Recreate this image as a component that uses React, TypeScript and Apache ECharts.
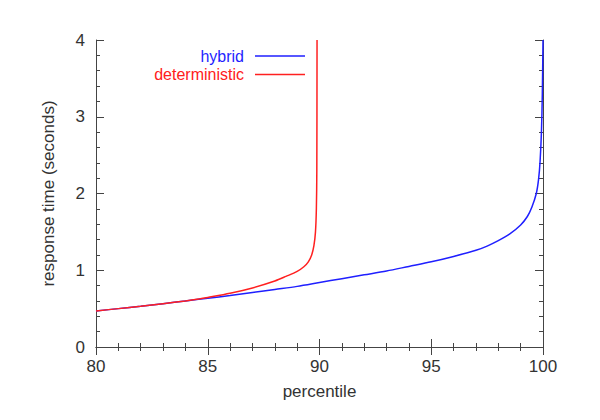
import React, { useEffect, useRef } from "react";
import * as echarts from "echarts";

const hybridPct = [80, 81, 82, 83, 84, 85, 86, 87, 88, 89, 90, 91, 92, 93, 94, 95, 96, 97, 97.5, 98, 98.5, 99, 99.3, 99.5, 99.7, 99.8, 99.87, 99.93, 99.97, 100];
const hybridVal = [0.47, 0.5, 0.53, 0.565, 0.6, 0.635, 0.67, 0.71, 0.75, 0.79, 0.84, 0.89, 0.94, 0.99, 1.05, 1.11, 1.18, 1.26, 1.315, 1.385, 1.47, 1.59, 1.7, 1.82, 2.0, 2.18, 2.42, 2.8, 3.3, 4.0];

const detPct = [80, 81, 82, 83, 84, 84.6, 85, 86, 87, 88, 88.5, 89, 89.3, 89.5, 89.65, 89.75, 89.82, 89.86, 89.88, 89.89];
const detVal = [0.47, 0.5, 0.53, 0.565, 0.6, 0.625, 0.645, 0.7, 0.77, 0.86, 0.92, 0.985, 1.045, 1.11, 1.2, 1.32, 1.5, 1.8, 2.3, 4.0];

const seriesNames = ["hybrid", "deterministic"];
const seriesColors = ["#1f1fff", "#ff2020"];

const xTicks = { min: 80, max: 100, interval: 5 };
const yTicks = { min: 0, max: 4, interval: 1 };

export default function App() {
  const ref = useRef<HTMLDivElement>(null);
  useEffect(() => {
    if (!ref.current) return;
    const chart = echarts.init(ref.current, null, { renderer: "svg" });
    const font = "Liberation Sans, Helvetica, Arial, sans-serif";
    const axisColor = "#444";
    const fs = 17;
    const baseAxis = {
      type: "value" as const,
      axisLine: { show: true, lineStyle: { color: axisColor, width: 1 } },
      axisTick: { show: true, inside: true, length: 8, lineStyle: { color: axisColor } },
      minorTick: { show: true, splitNumber: 5, length: 4, lineStyle: { color: axisColor } },
      splitLine: { show: false },
      minorSplitLine: { show: false },
    };
    const pairs = (xs: number[], ys: number[]) => xs.map((x, i) => [x, ys[i]]);
    chart.setOption({
      animation: false,
      backgroundColor: "#fff",
      textStyle: { fontFamily: font },
      grid: { left: 96, right: 57, top: 40, bottom: 73 },
      legend: seriesNames.map((n, i) => ({
        data: [{ name: n, textStyle: { color: seriesColors[i] } }],
        right: 295,
        top: 48 + i * 18.5,
        padding: 0,
        align: "right",
        icon: "rect",
        itemWidth: 50,
        itemHeight: 1.5,
        selectedMode: false,
        textStyle: { fontSize: 16, fontFamily: font, padding: [0, 6, 0, 0], lineHeight: 16 },
      })),
      xAxis: [
        {
          ...baseAxis,
          ...xTicks,
          position: "bottom",
          name: "percentile",
          nameLocation: "middle",
          nameGap: 36,
          nameTextStyle: { fontSize: fs, color: "#333", fontFamily: font },
          axisLabel: { fontSize: fs, color: "#333", margin: 11, fontFamily: font },
        },
        {
          ...baseAxis,
          ...xTicks,
          position: "top",
          axisLabel: { show: false },
        },
      ],
      yAxis: [
        {
          ...baseAxis,
          ...yTicks,
          position: "left",
          name: "response time (seconds)",
          nameLocation: "middle",
          nameGap: 39,
          nameTextStyle: { fontSize: fs, color: "#333", fontFamily: font },
          axisLabel: { fontSize: fs, color: "#333", margin: 11, fontFamily: font },
        },
        {
          ...baseAxis,
          ...yTicks,
          position: "right",
          axisLabel: { show: false },
        },
      ],
      series: [
        {
          name: seriesNames[0],
          type: "line",
          xAxisIndex: 0,
          yAxisIndex: 0,
          data: pairs(hybridPct, hybridVal),
          smooth: 0.3,
          showSymbol: false,
          lineStyle: { color: seriesColors[0], width: 1.5 },
          itemStyle: { color: seriesColors[0] },
        },
        {
          name: seriesNames[1],
          type: "line",
          xAxisIndex: 0,
          yAxisIndex: 0,
          data: pairs(detPct, detVal),
          smooth: 0.3,
          showSymbol: false,
          lineStyle: { color: seriesColors[1], width: 1.5 },
          itemStyle: { color: seriesColors[1] },
        },
      ],
    });
    return () => chart.dispose();
  }, []);
  return <div ref={ref} style={{ width: 600, height: 420, margin: -8 }} />;
}
